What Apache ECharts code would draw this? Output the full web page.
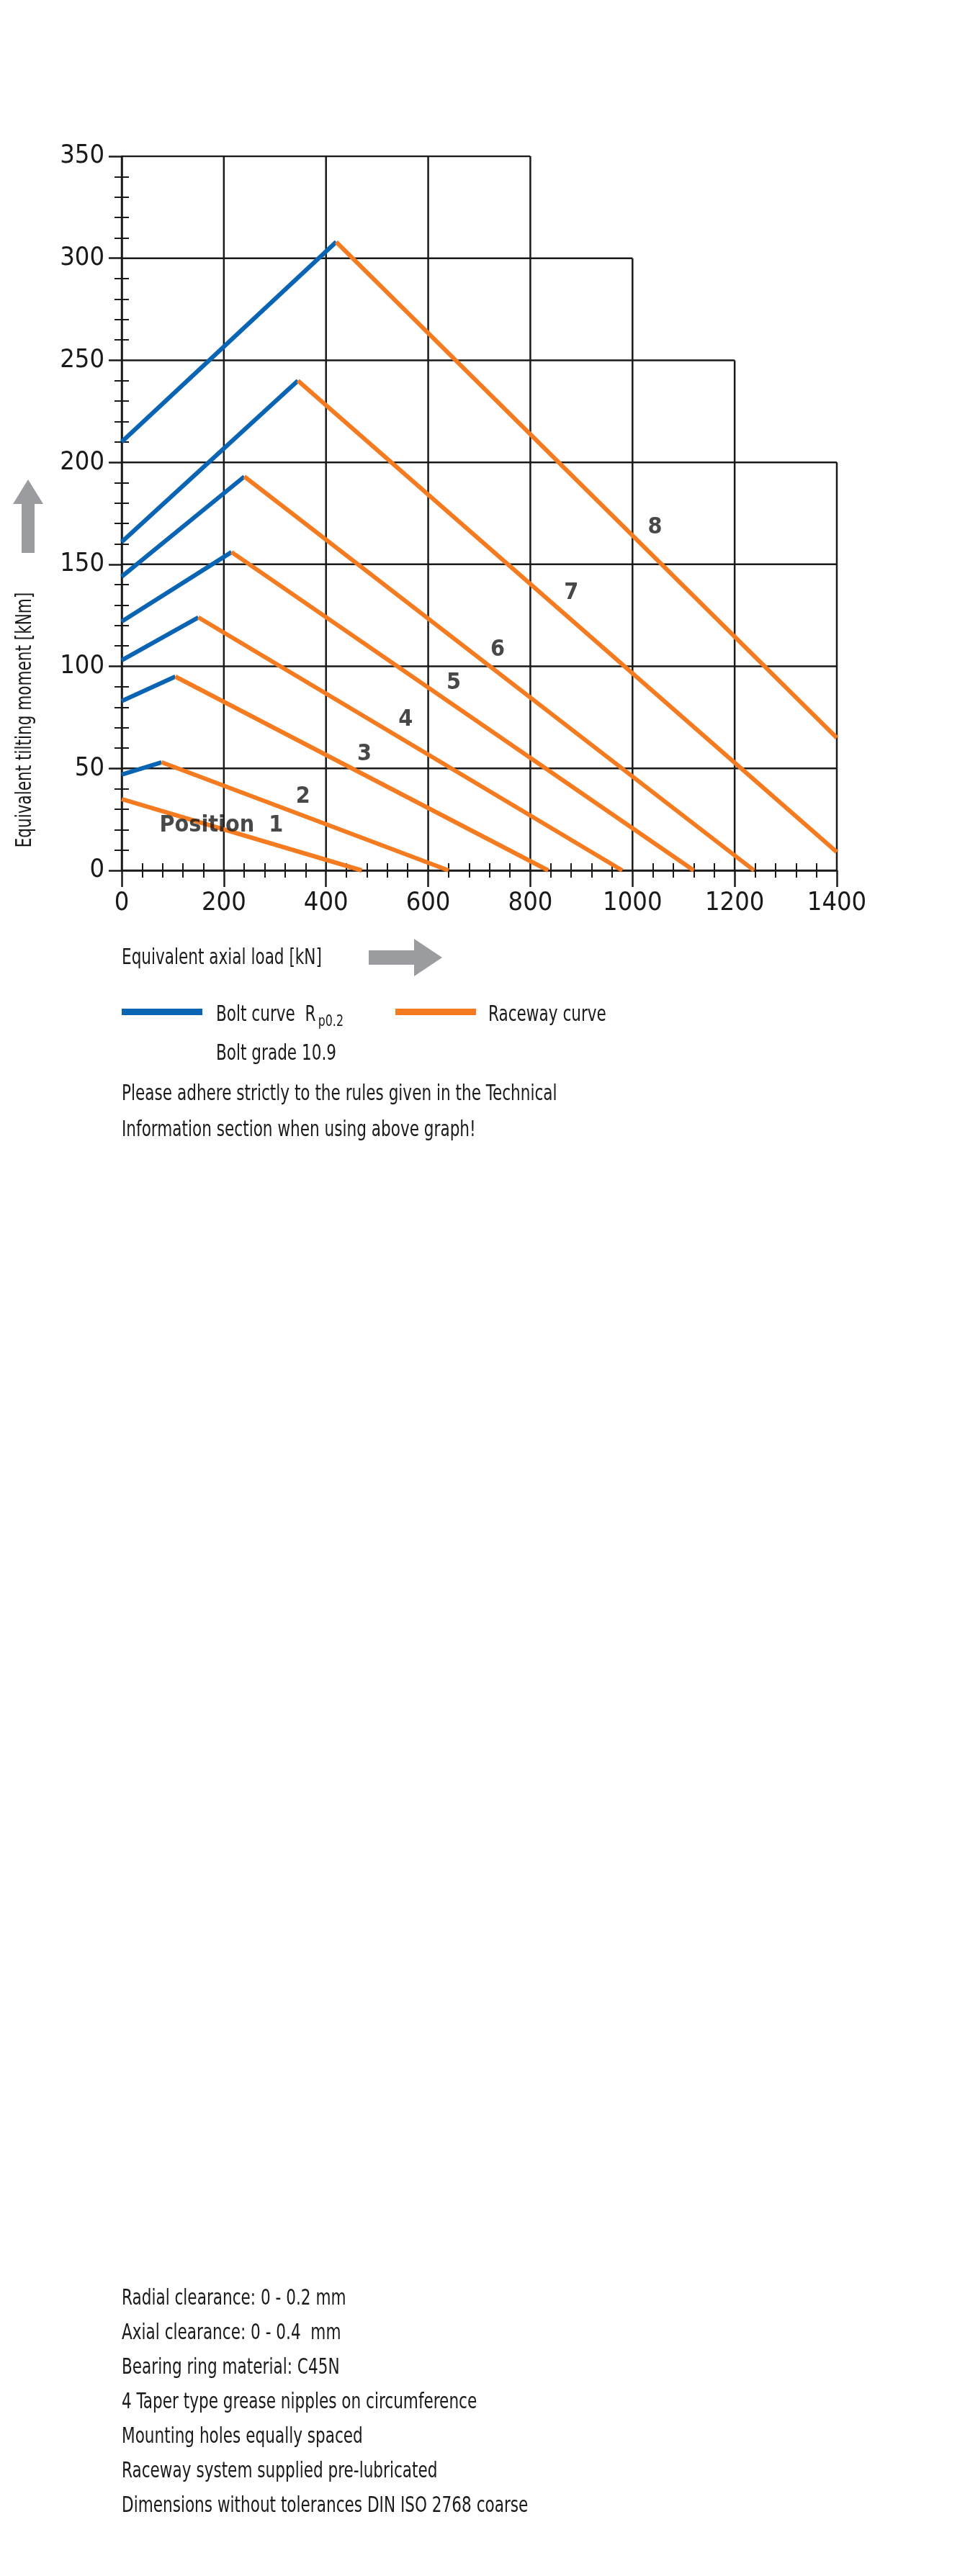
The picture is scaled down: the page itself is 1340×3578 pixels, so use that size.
<!DOCTYPE html>
<html><head><meta charset="utf-8">
<script src="https://cdn.jsdelivr.net/npm/echarts@6/dist/echarts.min.js"></script>
<style>html,body{margin:0;padding:0;background:#fff}#c{width:1340px;height:3578px}</style>
</head><body><div id="c"></div>
<script>
const FONT = "'Liberation Sans Narrow','DejaVu Sans Condensed','Open Sans',sans-serif";
const xTicks = [0,200,400,600,800,1000,1200,1400];
const yTicks = [0,50,100,150,200,250,300,350];
const vTop = [350,350,350,350,350,300,250,200];
const hRight = [1400,1400,1400,1400,1400,1200,1000,800];
const boltCurves = [
  null,
  [[0,47],[78,53]],
  [[0,83],[105,95]],
  [[0,103],[150,124]],
  [[0,122],[215,156]],
  [[0,144],[240,193]],
  [[0,161],[345,240]],
  [[0,210],[420,308]]
];
const racewayCurves = [
  [[0,35],[470,0]],
  [[78,53],[640,0]],
  [[105,95],[835,0]],
  [[150,124],[980,0]],
  [[215,156],[1120,0]],
  [[240,193],[1238,0]],
  [[345,240],[1400,9]],
  [[420,308],[1400,65]]
];
const curveLabels = ['Position  1','2','3','4','5','6','7','8'];
const labelPos = [[195,22],[355,36],[475,57],[556,74],[650,92],[736,108],[880,136],[1044,168]];
const notes = ['Please adhere strictly to the rules given in the Technical','Information section when using above graph!'];
const specs = ['Radial clearance: 0 - 0.2 mm','Axial clearance: 0 - 0.4  mm','Bearing ring material: C45N','4 Taper type grease nipples on circumference','Mounting holes equally spaced','Raceway system supplied pre-lubricated','Dimensions without tolerances DIN ISO 2768 coarse'];

const BLUE='#0a64b4', ORANGE='#f47b20', DARK='#1a1a1a', GREY='#9b9c9f';
const SX=0.8;
const gridData=[];
xTicks.forEach((x,i)=>{gridData.push([x,0],[x,vTop[i]],[null,null]);});
yTicks.forEach((y,i)=>{gridData.push([0,y],[hRight[i],y],[null,null]);});

const series=[{type:'line',data:gridData,symbol:'none',connectNulls:false,silent:true,
  lineStyle:{color:DARK,width:2.5},z:1}];
boltCurves.forEach(c=>{ if(c) series.push({type:'line',data:c,symbol:'none',lineStyle:{color:BLUE,width:6},z:3});});
racewayCurves.forEach(c=>series.push({type:'line',data:c,symbol:'none',lineStyle:{color:ORANGE,width:6},z:3}));
series.push({type:'scatter',symbolSize:0,data:labelPos.map((p,i)=>({value:p,name:curveLabels[i]})),z:5,
  label:{show:true,position:'inside',formatter:p=>p.name,fontFamily:FONT,fontWeight:'bold',fontSize:32,color:DARK}});

const axCommon={axisLine:{show:true,lineStyle:{color:DARK,width:2.5}},splitLine:{show:false}};
const G={left:169,top:217,width:993,height:992};
const chart=echarts.init(document.getElementById('c'),null,{renderer:'canvas'});
function T(x,y,text,extra){return Object.assign({type:'text',x:x,y:y,scaleX:SX,style:{text:text,font:'30px '+FONT,fill:DARK,verticalAlign:'middle'}},extra||{});}
const gfx=[
  {type:'polygon',shape:{points:[[30,768],[48,768],[48,700],[60,700],[39,666],[18,700],[30,700]]},style:{fill:GREY}},
  {type:'text',x:35,y:1000,rotation:Math.PI/2,scaleX:SX,style:{text:'Equivalent tilting moment [kNm]',font:'30px '+FONT,fill:DARK,align:'center',verticalAlign:'middle'}},
  T(169,1331,'Equivalent axial load [kN]'),
  {type:'polygon',shape:{points:[[512,1320],[575,1320],[575,1304],[614,1330],[575,1356],[575,1340],[512,1340]]},style:{fill:GREY}},
  {type:'rect',shape:{x:169,y:1401,width:112,height:9},style:{fill:BLUE}},
  {type:'text',x:300,y:1410,scaleX:SX,style:{text:'Bolt curve  R{s|p0.2}',font:'30px '+FONT,fill:DARK,verticalAlign:'middle',
     rich:{s:{fontSize:22,fontFamily:FONT,padding:[18,0,0,4],fill:DARK}}}},
  T(300,1464,'Bolt grade 10.9'),
  {type:'rect',shape:{x:549,y:1401,width:112,height:9},style:{fill:ORANGE}},
  T(678,1410,'Raceway curve')
];
notes.forEach((t,i)=>gfx.push(T(169,1520+i*50,t)));
specs.forEach((t,i)=>gfx.push(T(169,3193+i*48,t)));

chart.setOption({
  animation:false,
  grid:G,
  xAxis:[
    Object.assign({type:'value',min:0,max:1400,interval:200,
      axisTick:{show:true,length:23,lineStyle:{color:DARK,width:2.5}},
      minorTick:{show:true,splitNumber:5,length:10,lineStyle:{color:DARK,width:2}},
      axisLabel:{fontFamily:FONT,fontSize:36,color:DARK,margin:28,formatter:v=>String(v)}},axCommon),
    {type:'value',min:0,max:1400,interval:200,position:'bottom',axisLine:{show:false},splitLine:{show:false},
      axisTick:{show:false},axisLabel:{show:false},
      minorTick:{show:true,splitNumber:5,length:-10,lineStyle:{color:DARK,width:2}}}
  ],
  yAxis:[
    Object.assign({type:'value',min:0,max:350,interval:50,
      axisTick:{show:true,length:18,lineStyle:{color:DARK,width:2.5}},
      minorTick:{show:true,splitNumber:5,length:10,lineStyle:{color:DARK,width:2}},
      axisLabel:{fontFamily:FONT,fontSize:36,color:DARK,margin:24,formatter:v=>String(v)}},axCommon),
    {type:'value',min:0,max:350,interval:50,position:'left',axisLine:{show:false},splitLine:{show:false},
      axisTick:{show:false},axisLabel:{show:false},
      minorTick:{show:true,splitNumber:5,length:-10,lineStyle:{color:DARK,width:2}}}
  ],
  series:series,
  graphic:gfx
});
</script></body></html>
